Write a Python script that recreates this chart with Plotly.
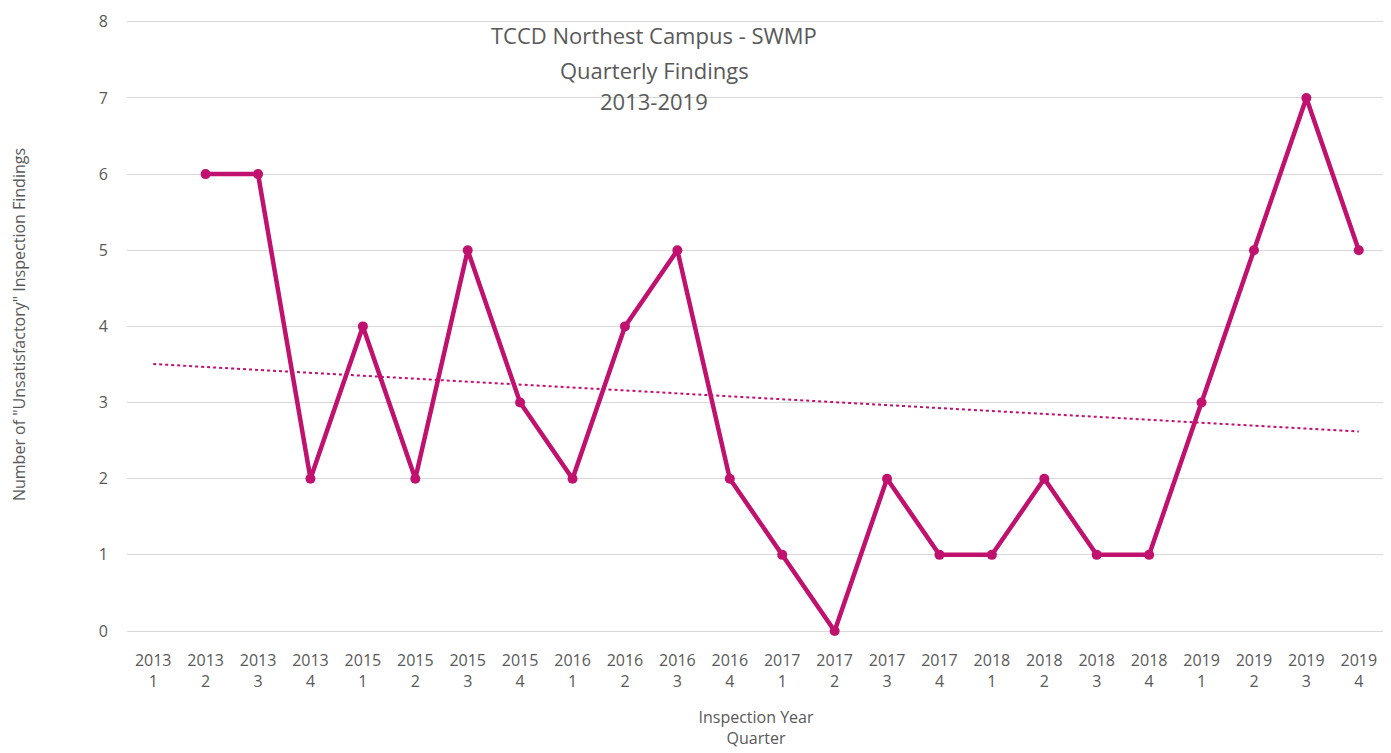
import numpy as np
import plotly.graph_objects as go

years = ["2013", "2013", "2013", "2013", "2015", "2015", "2015", "2015",
         "2016", "2016", "2016", "2016", "2017", "2017", "2017", "2017",
         "2018", "2018", "2018", "2018", "2019", "2019", "2019", "2019"]
quarters = ["1", "2", "3", "4"] * 6
findings = [None, 6, 6, 2, 4, 2, 5, 3, 2, 4, 5, 2, 1, 0, 2, 1, 1, 2, 1, 1, 3, 5, 7, 5]

categories = [f"{y}<br>{q}" for y, q in zip(years, quarters)]

# linear trendline (least squares over available points, x = 1..n)
idx = np.arange(1, len(findings) + 1)
mask = np.array([v is not None for v in findings])
yv = np.array([v if v is not None else np.nan for v in findings], dtype=float)
slope, intercept = np.polyfit(idx[mask], yv[mask], 1)
trend = slope * idx + intercept

COLOR = "#C1116E"
GRID = "#D9D9D9"
TXT = "#595959"
FONT = "Open Sans"

fig = go.Figure()
fig.add_trace(go.Scatter(
    x=categories, y=trend, mode="lines",
    line=dict(color=COLOR, width=2, dash="dot"),
    hoverinfo="skip", showlegend=False))
fig.add_trace(go.Scatter(
    x=categories, y=findings, mode="lines+markers",
    line=dict(color=COLOR, width=4.5),
    marker=dict(color=COLOR, size=10),
    cliponaxis=False,
    connectgaps=False, showlegend=False))

W, H = 1391, 753
OFF = 8  # page body offset
top, bottom, left, right = 10, 130, 119, 14
plot_h = H - top - bottom

title_lines = ["TCCD Northest Campus - SWMP", "Quarterly Findings", "2013-2019"]
title_y = [35, 70, 101]
for line, ypx in zip(title_lines, title_y):
    fig.add_annotation(
        text=line, xref="paper", yref="paper",
        x=(654 - 127) / (1385 - 127), y=1 - (ypx - OFF - top) / plot_h,
        xanchor="center", yanchor="middle", showarrow=False,
        font=dict(family=FONT, size=22, color=TXT), bgcolor="rgba(255,255,255,0)")

fig.update_layout(
    width=W, height=H,
    margin=dict(l=left, r=right, t=top, b=bottom),
    paper_bgcolor="white", plot_bgcolor="white",
    font=dict(family=FONT, color=TXT, size=16),
    xaxis=dict(
        type="category", range=[-0.5, len(categories) - 0.5],
        showgrid=False, showline=False, zeroline=False,
        automargin=False,
        tickfont=dict(family=FONT, size=16, color=TXT),
        ticklabelstandoff=18, tickangle=0,
        title=dict(text="Inspection Year<br>Quarter",
                   font=dict(family=FONT, size=16, color=TXT), standoff=21),
    ),
    yaxis=dict(
        range=[0, 8.05], tickvals=[0, 1, 2, 3, 4, 5, 6, 7, 8],
        showgrid=True, gridcolor=GRID, gridwidth=1,
        zeroline=True, zerolinecolor=GRID, zerolinewidth=1, showline=False,
        automargin=False,
        tickfont=dict(family=FONT, size=16, color=TXT),
        ticklabelstandoff=18,
        title=dict(text='Number of "Unsatisfactory" Inspection Findings',
                   font=dict(family=FONT, size=16, color=TXT), standoff=71),
    ),
)

fig.write_html("out.html")
